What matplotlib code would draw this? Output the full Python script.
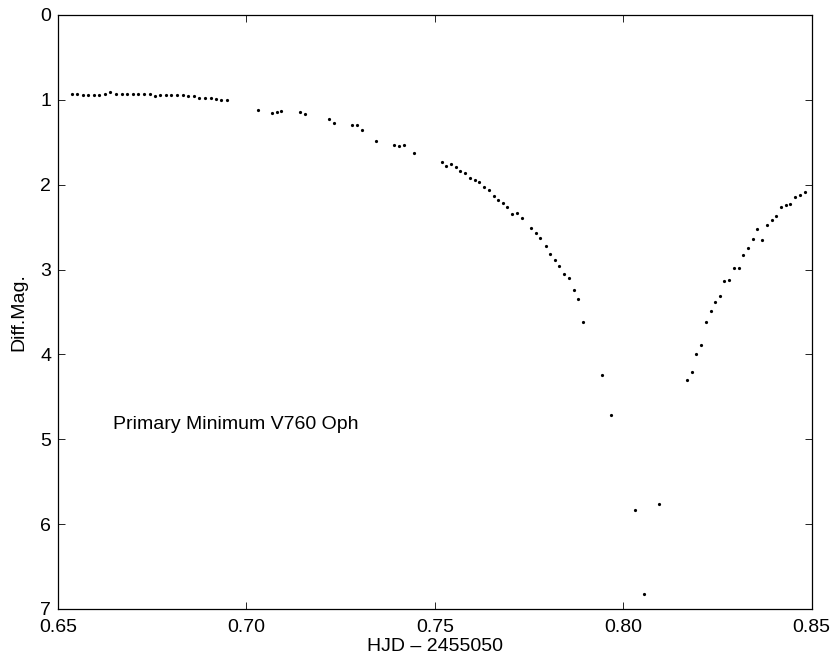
import matplotlib
matplotlib.use("Agg")
import matplotlib.pyplot as plt

hjd = [0.6536, 0.6551, 0.6566, 0.6580, 0.6595, 0.6609, 0.6624, 0.6639, 0.6654, 0.6669,
       0.6683, 0.6698, 0.6713, 0.6728, 0.6743, 0.6757, 0.6772, 0.6787, 0.6801, 0.6816,
       0.6831, 0.6845, 0.6860, 0.6875, 0.6889, 0.6905, 0.6919, 0.6933, 0.6948,
       0.7032, 0.7069, 0.7081, 0.7093, 0.7143, 0.7156, 0.7219, 0.7232, 0.7281, 0.7294,
       0.7307, 0.7344, 0.7393, 0.7405, 0.7419, 0.7444,
       0.7519, 0.7531, 0.7543, 0.7556, 0.7568, 0.7581, 0.7593, 0.7607, 0.7618, 0.7631,
       0.7644, 0.7656, 0.7669, 0.7681, 0.7693, 0.7706, 0.7718, 0.7731, 0.7756, 0.7768,
       0.7780, 0.7794, 0.7806, 0.7818, 0.7831, 0.7843, 0.7855, 0.7869, 0.7881, 0.7893,
       0.7944, 0.7968, 0.8032, 0.8056, 0.8094,
       0.8169, 0.8182, 0.8194, 0.8206, 0.8219, 0.8232, 0.8244, 0.8257, 0.8269, 0.8281,
       0.8294, 0.8307, 0.8319, 0.8331, 0.8344, 0.8356, 0.8369, 0.8382, 0.8394, 0.8407,
       0.8419, 0.8432, 0.8444, 0.8457, 0.8469, 0.8482]
mag = [0.935, 0.927, 0.947, 0.947, 0.943, 0.939, 0.935, 0.912, 0.935, 0.935,
       0.935, 0.935, 0.935, 0.935, 0.935, 0.954, 0.939, 0.939, 0.939, 0.939,
       0.947, 0.950, 0.954, 0.982, 0.982, 0.978, 0.993, 0.997, 1.001,
       1.118, 1.150, 1.140, 1.132, 1.143, 1.166, 1.226, 1.276, 1.300, 1.292,
       1.359, 1.481, 1.532, 1.540, 1.528, 1.630,
       1.736, 1.779, 1.752, 1.793, 1.840, 1.862, 1.918, 1.948, 1.971, 2.027,
       2.066, 2.130, 2.180, 2.215, 2.259, 2.345, 2.337, 2.392, 2.506, 2.569,
       2.624, 2.718, 2.813, 2.883, 2.955, 3.052, 3.100, 3.241, 3.350, 3.614,
       4.242, 4.717, 5.833, 6.823, 5.763,
       4.297, 4.207, 3.995, 3.885, 3.622, 3.488, 3.378, 3.308, 3.139, 3.120,
       2.978, 2.978, 2.825, 2.745, 2.644, 2.522, 2.652, 2.471, 2.419, 2.372,
       2.266, 2.235, 2.223, 2.149, 2.117, 2.082]

xticks = [0.65, 0.70, 0.75, 0.80, 0.85]
yticks = [0, 1, 2, 3, 4, 5, 6, 7]

plt.rcParams["font.family"] = ["Liberation Sans", "DejaVu Sans"]
plt.rcParams["font.size"] = 14

fig = plt.figure(figsize=(8.36, 6.66), dpi=100)
ax = fig.add_axes([0.0694, 0.0856, 0.9013, 0.8919])

ax.plot(hjd, mag, "o", color="black", markersize=2.3, markeredgewidth=0)

ax.text(0.6646, 4.83, "Primary Minimum V760 Oph", va="center", ha="left")

ax.set_xlim(0.65, 0.85)
ax.set_ylim(7, 0)
ax.set_xticks(xticks)
ax.set_xticklabels(["%.2f" % t for t in xticks])
ax.set_yticks(yticks)
ax.tick_params(direction="in", top=True, right=True, length=5, width=0.6)
ax.tick_params(axis="x", pad=7)
ax.tick_params(axis="y", pad=5)
for s in ax.spines.values():
    s.set_linewidth(0.9)

ax.set_xlabel("HJD \u2013 2455050", labelpad=2)
ax.set_ylabel("Diff.Mag.", labelpad=9)

fig.savefig("out.png", dpi=100)
